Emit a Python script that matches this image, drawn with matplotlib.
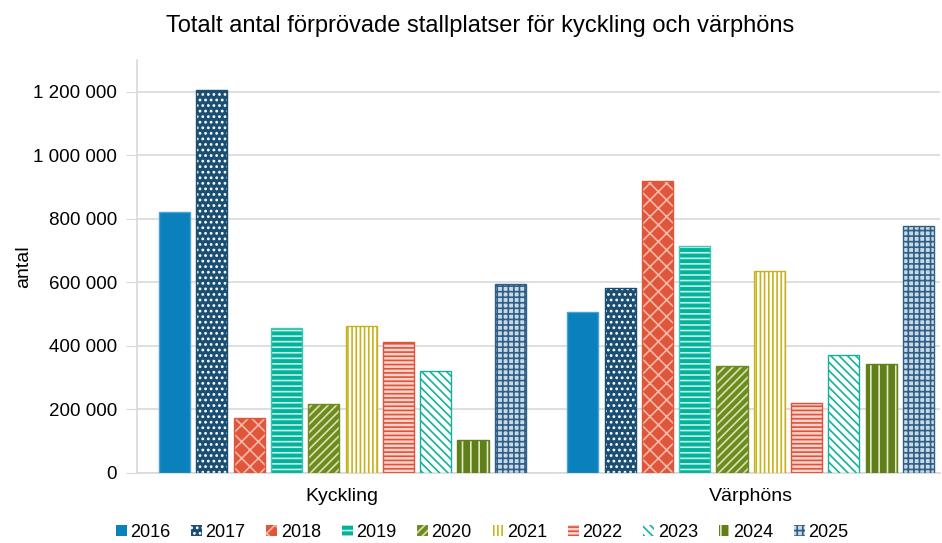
import numpy as np
import matplotlib.pyplot as plt
from matplotlib.patches import Patch
from matplotlib.ticker import FuncFormatter

plt.rcParams['font.family'] = ['Liberation Sans', 'DejaVu Sans']
plt.rcParams['hatch.linewidth'] = 1.2

categories = ["Kyckling", "Värphöns"]
years = ["2016", "2017", "2018", "2019", "2020", "2021", "2022", "2023", "2024", "2025"]
kyckling = [820000, 1205000, 173000, 455000, 217000, 462000, 411000, 320000, 104000, 594000]
varphons = [506000, 581000, 917000, 713000, 336000, 635000, 220000, 371000, 342000, 776000]

# (face, hatch, hatch colour, outline)
styles = [
    ("#0A80BD", None, "#0A80BD", "#4AA3D6"),
    ("#1B4E73", "...", "white", "#1B4E73"),
    ("#E0563A", "xx", "#F3B8A8", "#E0563A"),
    ("#00B39B", "---", "#C8EEE8", "#40C8B4"),
    ("#6E8B1E", "////", "#D8E2B8", "#6E8B1E"),
    ("white", "||||", "#C8B21C", "#C8B21C"),
    ("#F7D3CB", "----", "#E0523A", "#E0523A"),
    ("white", "\\\\\\\\", "#14B29D", "#14B29D"),
    ("#5F7F18", "||", "#E0E8C8", "#5F7F18"),
    ("#C9D9E6", "+++", "#2F5F86", "#2F5F86"),
]

fig, ax = plt.subplots(figsize=(9.42, 5.43), dpi=100)
fig.subplots_adjust(left=0.145, right=0.998, bottom=0.129, top=0.89)

x = np.arange(len(categories))
step = 0.0914
width = 0.076
for i, year in enumerate(years):
    face, hatch, hcol, edge = styles[i]
    pos = x + (i - 4.5) * step
    vals = [kyckling[i], varphons[i]]
    ax.bar(pos, vals, width, color=face, hatch=hatch, edgecolor=hcol, linewidth=0, zorder=3)
    ax.bar(pos, vals, width, fill=False, edgecolor=edge, linewidth=1.0, zorder=4)

handles = []
for i, year in enumerate(years):
    face, hatch, hcol, edge = styles[i]
    handles.append(Patch(facecolor=face, hatch=hatch, edgecolor=hcol, linewidth=0, label=year))
ax.legend(handles=handles, loc="upper center", bbox_to_anchor=(0.43, -0.093), ncol=10,
          frameon=False, fontsize=13, handlelength=0.6, handleheight=0.6,
          handletextpad=0.2, columnspacing=1.15, borderpad=0.2)

ax.set_xlim(-0.504, 1.464)
ax.set_ylim(0, 1300000)
ax.set_yticks(np.arange(0, 1200001, 200000))
ax.yaxis.set_major_formatter(FuncFormatter(lambda v, p: f"{int(v):,}".replace(",", " ")))
ax.set_xticks(x)
ax.set_xticklabels(categories, fontsize=14)
ax.tick_params(axis="x", length=0, pad=11)
ax.tick_params(axis="y", length=8, color="#D9D9D9", labelsize=13.5, pad=6)
ax.grid(axis="y", color="#D9D9D9", linewidth=1.2, zorder=0)
for s in ["top", "right"]:
    ax.spines[s].set_visible(False)
ax.spines["left"].set_color("#D9D9D9")
ax.spines["bottom"].set_color("#D9D9D9")
ax.spines["left"].set_linewidth(1.2)
ax.spines["bottom"].set_linewidth(1.2)
ax.set_ylabel("antal", fontsize=14, labelpad=1)
ax.set_title("Totalt antal förprövade stallplatser för kyckling och värphöns",
             fontsize=17, pad=20, x=0.427)

fig.savefig("out.png", dpi=100)
